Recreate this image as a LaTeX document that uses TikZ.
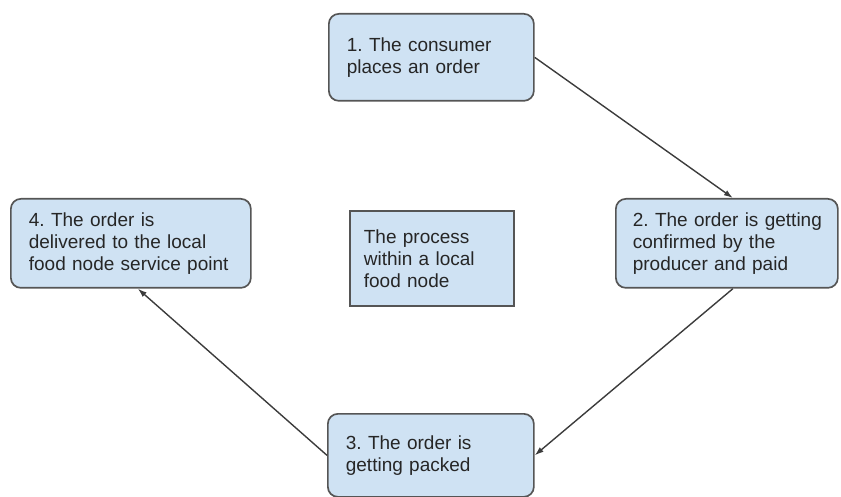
\documentclass[tikz,border=0pt]{standalone}
\usepackage{fontspec}
\setmainfont{Liberation Sans}
\usetikzlibrary{positioning,arrows,arrows.meta}
\definecolor{boxfill}{HTML}{CFE2F3}
\definecolor{boxline}{HTML}{555555}
\definecolor{arrowline}{HTML}{3C3C3C}
\definecolor{txt}{HTML}{262626}
\newcommand{\boxfont}{\fontsize{19}{22}\selectfont\frenchspacing\hyphenpenalty=10000\relax}

\begin{document}
\begin{tikzpicture}[auto, >={Latex[length=9pt,width=6pt]}, x=1pt, y=-1pt,
  stepbox/.style={draw=boxline, fill=boxfill, line width=1.7pt, rounded corners=10pt,
    anchor=north west, align=left, inner xsep=18pt, inner ysep=0pt, text=txt,
    font=\boxfont},
  notebox/.style={stepbox, rounded corners=0pt, inner xsep=14pt},
  flow/.style={->, draw=arrowline, line width=1.4pt}]
\useasboundingbox (0,0) rectangle (841,497);
\node (order) at (328,13) [stepbox, text width=169pt, minimum height=87pt] {1. The consumer\\places an order};
\node (confirm) at (615,198) [stepbox, inner xsep=17pt, text width=188pt, minimum height=89pt] {2.~The~order~is~getting\\confirmed by the\\producer and paid};
\node (packed) at (327,413) [stepbox, text width=170pt, minimum height=83pt] {3. The order is\\getting packed};
\node (delivered) at (10,198) [stepbox, text width=204pt, minimum height=89pt] {4. The order is\\delivered to the local\\food~node~service~point};
\node (process) at (349,210) [notebox, text width=136pt, minimum height=95pt] {The process\\within a local\\food node};

\draw [flow] (order.east) -- ([xshift=6pt]confirm.north);
\draw [flow] ([xshift=6pt]confirm.south) -- (packed.east);
\draw [flow] (packed.west) -- ([xshift=7pt]delivered.south);
\end{tikzpicture}
\end{document}
